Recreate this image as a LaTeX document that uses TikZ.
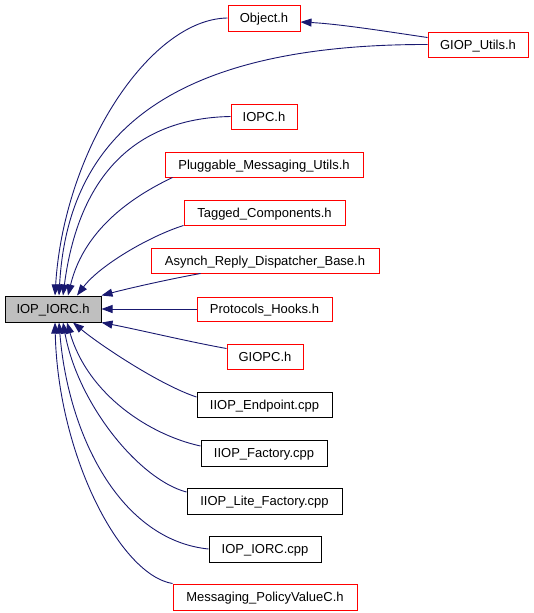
\documentclass[tikz,border=0pt]{standalone}
\usepackage{fontspec}
\setmainfont{Liberation Sans}
\usetikzlibrary{arrows.meta}
\definecolor{edgeblue}{HTML}{191970}
\definecolor{boxred}{HTML}{FF0000}
\definecolor{boxgray}{HTML}{BFBFBF}
\tikzset{
  filebox/.style={draw, rectangle, inner sep=0pt, minimum height=25pt, line width=1pt,
    text height=9.3pt, text depth=0pt, font=\fontsize{13}{15}\selectfont},
  redbox/.style={filebox, draw=boxred},
  blackbox/.style={filebox, draw=black},
  mainbox/.style={filebox, draw=black, fill=boxgray, minimum height=26pt},
  edge/.style={draw=edgeblue, line width=0.9pt,
    -{Triangle[length=11pt,width=8pt,fill=edgeblue]}}
}
\begin{document}
\begin{tikzpicture}[x=1pt,y=-1pt]
\useasboundingbox (0,0) rectangle (533,613);
% nodes
\node[mainbox, minimum width=96pt] (main) at (53,309) {IOP\_IORC.h};
\node[redbox, minimum width=72pt, minimum height=26pt] (obj) at (264,18) {Object.h};
\node[redbox, minimum width=100pt] (gu) at (478,44.5) {GIOP\_Utils.h};
\node[redbox, minimum width=66pt] (iopc) at (264,116.5) {IOPC.h};
\node[redbox, minimum width=198pt] (plug) at (264,164.5) {Pluggable\_Messaging\_Utils.h};
\node[redbox, minimum width=161pt] (tag) at (264.5,212.5) {Tagged\_Components.h};
\node[redbox, minimum width=228pt] (asy) at (265,260.5) {Asynch\_Reply\_Dispatcher\_Base.h};
\node[redbox, minimum width=135pt, minimum height=24pt] (proto) at (264.5,309) {Protocols\_Hooks.h};
\node[redbox, minimum width=76pt] (giopc) at (265,356.5) {GIOPC.h};
\node[blackbox, minimum width=135pt] (ep) at (264.5,404.5) {IIOP\_Endpoint.cpp};
\node[blackbox, minimum width=126pt, minimum height=26pt] (fac) at (264,453) {IIOP\_Factory.cpp};
\node[blackbox, minimum width=155pt, minimum height=26pt] (lite) at (264.5,501) {IIOP\_Lite\_Factory.cpp};
\node[blackbox, minimum width=112pt, minimum height=26pt] (cpp) at (265,549) {IOP\_IORC.cpp};
\node[redbox, minimum width=184pt, minimum height=26pt] (msg) at (265,597) {Messaging\_PolicyValueC.h};
% edges
\draw[edge] ([yshift=7pt]gu.west) .. controls (390,32) and (340,24) .. ([yshift=-4pt]obj.east);
\draw[edge] (obj.west) .. controls (150,19) and (64,150) .. ([xshift=2pt]main.north);
\draw[edge] (gu.west) .. controls (150,44) and (67,150) .. ([xshift=6pt]main.north);
\draw[edge] (iopc.west) .. controls (145,118) and (80,165) .. ([xshift=10pt]main.north);
\draw[edge] ([xshift=8pt]plug.south west) .. controls (140,193) and (85,225) .. ([xshift=15pt]main.north);
\draw[edge] (tag.south west) .. controls (150,236) and (100,265) .. ([xshift=24pt]main.north);
\draw[edge] ([xshift=50pt]asy.south west) .. controls (170,279) and (130,288) .. (main.north east);
\draw[edge] (proto.west) -- (main.east);
\draw[edge] ([yshift=8pt]giopc.west) .. controls (190,342) and (140,330) .. (main.south east);
\draw[edge] ([yshift=7.5pt]ep.west) .. controls (160,385) and (100,345) .. ([xshift=20pt]main.south);
\draw[edge] ([yshift=7pt]fac.west) .. controls (150,435) and (88,395) .. ([xshift=14pt]main.south);
\draw[edge] ([yshift=9pt]lite.west) .. controls (140,480) and (78,405) .. ([xshift=10pt]main.south);
\draw[edge] (cpp.west) .. controls (120,540) and (68,435) .. ([xshift=6pt]main.south);
\draw[edge] (msg.north west) .. controls (120,575) and (58,455) .. ([xshift=2pt]main.south);
\end{tikzpicture}
\end{document}
